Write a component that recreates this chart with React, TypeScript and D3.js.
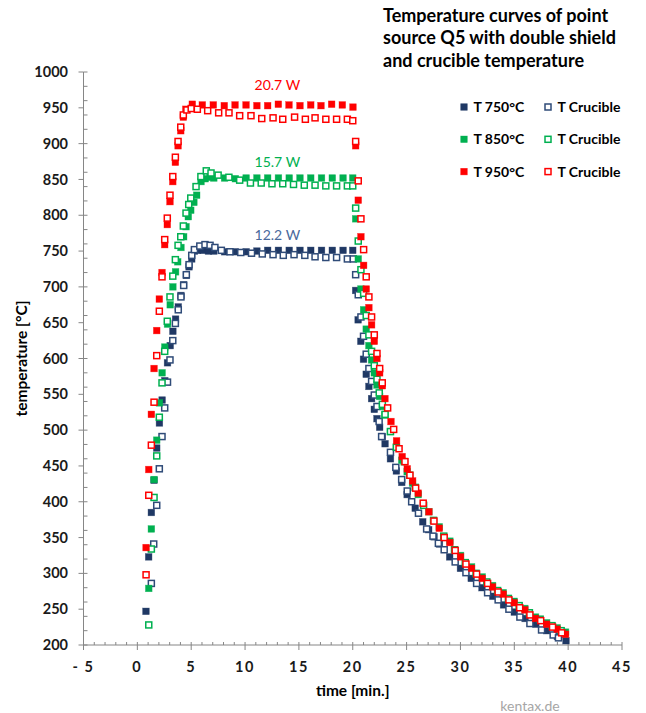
import { useMemo } from "react";
import * as d3 from "d3";

const T750: [number, number][] = [
  [0.8, 247], [1.05, 323], [1.3, 385], [1.55, 430], [1.8, 475], [2.05, 510], [2.3, 542], [2.55, 569],
  [2.8, 594], [3.05, 618], [3.3, 638], [3.55, 655], [3.8, 672], [4.05, 688], [4.3, 703], [4.55, 716],
  [4.8, 728], [5.05, 739], [5.3, 750], [5.6, 751], [6.1, 751], [6.6, 750], [7.1, 750], [8.1, 749],
  [9.1, 749], [10.1, 749], [11.1, 750], [12.1, 751], [13.1, 751], [14.1, 751], [15.1, 751], [16.1, 751],
  [17.1, 751], [18.1, 751], [19.1, 751], [20.0, 751], [20.27, 695], [20.5, 654], [20.75, 624], [21.0, 599],
  [21.25, 578], [21.5, 561], [21.75, 544], [22.0, 529], [22.25, 516], [22.5, 504], [22.75, 491], [23.0, 481],
  [23.5, 460], [24.05, 443], [24.55, 427], [25.05, 410], [25.8, 391], [26.5, 372], [27.05, 361], [27.55, 351],
  [28.05, 341], [29.0, 323], [30.0, 307], [31.0, 293], [32.0, 280], [33.0, 268], [34.0, 256], [35.0, 246],
  [36.0, 237], [37.0, 229], [38.0, 220], [39.0, 212], [39.8, 206],
];

const CRUCIBLE_750: [number, number][] = [
  [1.3, 286], [1.52, 341], [1.8, 395], [2.04, 446], [2.29, 491], [2.54, 531], [2.8, 567], [3.03, 598],
  [3.29, 625], [3.53, 649], [3.8, 668], [4.05, 686], [4.3, 702], [4.55, 717], [4.8, 731], [5.05, 744],
  [5.3, 752], [5.8, 757], [6.28, 759], [6.75, 758], [7.2, 755], [7.8, 751], [8.6, 749], [9.6, 748],
  [10.6, 747], [11.6, 746], [12.6, 745], [13.55, 744], [14.55, 745], [15.55, 744], [16.5, 742], [17.5, 741],
  [18.5, 741], [19.5, 739], [20.05, 739], [20.27, 717], [20.51, 689], [20.76, 658], [21.0, 631], [21.25, 606],
  [21.5, 586], [21.75, 568], [22.0, 549], [22.25, 533], [22.45, 512], [22.68, 491], [23.5, 469], [24.0, 448],
  [24.54, 431], [25.06, 415], [25.47, 400], [26.1, 384], [26.86, 362], [27.45, 352], [27.95, 342], [28.49, 333],
  [29.51, 316], [30.51, 301], [31.5, 286], [32.52, 273], [33.5, 263], [34.5, 250], [35.52, 239], [36.45, 230],
  [37.53, 221], [38.61, 214], [39.1, 210],
];

const T850: [number, number][] = [
  [1.06, 279], [1.3, 362], [1.55, 431], [1.8, 486], [2.05, 538], [2.3, 580], [2.55, 616], [2.8, 648],
  [3.05, 675], [3.3, 700], [3.55, 721], [3.75, 735], [4.05, 755], [4.3, 770], [4.52, 784], [4.73, 798],
  [4.96, 807], [5.25, 818], [5.51, 828], [5.91, 847], [6.3, 851], [6.75, 853], [7.1, 852], [8.1, 852],
  [9.1, 851], [10.1, 852], [11.1, 852], [12.1, 852], [13.1, 852], [14.1, 852], [15.1, 852], [16.1, 852],
  [17.1, 852], [18.1, 852], [19.1, 852], [20.0, 852], [20.27, 795], [20.51, 739], [20.76, 697], [21.01, 668],
  [21.25, 641], [21.5, 618], [21.75, 598], [22.0, 580], [22.25, 563], [22.5, 547], [22.75, 533], [22.99, 521],
  [23.5, 498], [24.05, 476], [24.55, 458], [25.05, 442], [25.55, 426], [26.08, 410], [27.07, 386], [28.03, 365],
  [29.02, 345], [30.01, 325], [31.03, 309], [32.02, 295], [32.98, 283], [33.97, 273], [34.99, 261], [35.98, 251],
  [36.97, 239], [38.0, 231], [38.98, 224], [39.76, 218],
];

const CRUCIBLE_850: [number, number][] = [
  [1.06, 228], [1.3, 334], [1.55, 406], [1.8, 464], [2.04, 518], [2.29, 566], [2.54, 610], [2.78, 652],
  [3.03, 686], [3.29, 715], [3.53, 738], [3.78, 758], [4.03, 770], [4.27, 785], [4.52, 803], [4.77, 815],
  [4.96, 824], [5.45, 840], [5.9, 854], [6.4, 862], [6.84, 859], [7.5, 856], [8.5, 853], [9.5, 849],
  [10.5, 845], [11.5, 845], [12.5, 844], [13.5, 844], [14.5, 843], [15.5, 842], [16.5, 842], [17.5, 841],
  [18.5, 841], [19.5, 841], [20.0, 841], [20.27, 810], [20.51, 764], [20.76, 724], [21.01, 691], [21.25, 660],
  [21.5, 633], [21.75, 610], [22.0, 590], [22.25, 571], [22.46, 552], [22.75, 536], [23.0, 522], [23.5, 498],
  [24.05, 476], [24.78, 456], [25.28, 437], [25.8, 420], [26.58, 395], [27.5, 374], [28.45, 352], [29.45, 333],
  [30.45, 315], [31.45, 300], [32.45, 288], [33.45, 276], [34.45, 265], [35.45, 255], [36.4, 245], [37.4, 236],
  [38.5, 227], [39.35, 220],
];

const T950: [number, number][] = [
  [0.81, 336], [1.06, 445], [1.3, 522], [1.55, 586], [1.8, 639], [2.04, 683], [2.29, 720], [2.54, 759],
  [2.78, 787], [3.03, 819], [3.29, 847], [3.53, 874], [3.78, 897], [4.03, 918], [4.27, 937], [4.5, 948],
  [5.1, 955], [6.03, 954], [7.05, 954], [8.07, 953], [9.07, 954], [10.09, 954], [11.1, 953], [12.1, 953],
  [13.09, 955], [14.08, 954], [15.1, 953], [16.1, 954], [17.05, 953], [18.04, 955], [19.03, 954], [20.02, 951],
  [20.27, 897], [20.51, 821], [20.76, 770], [21.01, 730], [21.25, 697], [21.5, 671], [21.75, 647], [22.0, 624],
  [22.25, 600], [22.5, 580], [22.75, 562], [22.99, 544], [23.55, 512], [24.07, 485], [24.59, 463], [25.06, 446],
  [25.56, 429], [26.08, 412], [27.07, 386], [28.03, 363], [29.02, 343], [30.01, 323], [31.03, 307], [32.02, 293],
  [32.98, 281], [33.97, 271], [34.99, 259], [35.98, 249], [36.97, 237], [38.0, 229], [38.98, 222], [39.76, 215],
];

const CRUCIBLE_950: [number, number][] = [
  [0.81, 298], [1.06, 409], [1.3, 479], [1.55, 539], [1.8, 604], [2.04, 666], [2.29, 714], [2.54, 766],
  [2.78, 796], [3.03, 828], [3.29, 854], [3.53, 881], [3.78, 903], [4.03, 923], [4.27, 940], [4.6, 947],
  [5.0, 949], [5.57, 948], [6.53, 946], [7.55, 943], [8.51, 943], [9.5, 939], [10.55, 939], [11.55, 935],
  [12.6, 936], [13.5, 934], [14.6, 937], [15.6, 934], [16.5, 936], [17.5, 934], [18.5, 934], [19.5, 934],
  [20.0, 932], [20.27, 903], [20.51, 848], [20.76, 795], [21.01, 752], [21.25, 714], [21.5, 686], [21.75, 658],
  [22.0, 633], [22.25, 607], [22.5, 586], [22.74, 566], [23.24, 531], [23.8, 501], [24.3, 474], [24.85, 456],
  [25.31, 437], [25.84, 419], [26.54, 398], [27.54, 373], [28.49, 350], [29.51, 332], [30.51, 313], [31.5, 299],
  [32.52, 286], [33.5, 274], [34.5, 263], [35.5, 252], [36.45, 242], [37.45, 234], [38.55, 225], [39.4, 217],
];

// Heater power annotations: [label, time, temperature]
const POWER_LABELS: [string, number, number][] = [
  ["20.7 W", 13, 975],
  ["15.7 W", 13, 868],
  ["12.2 W", 13, 766],
];

const TITLE_LINES = ["Temperature curves of point", "source Q5 with double shield", "and crucible temperature"];
const LEGEND_LABELS = ["T 750°C", "T Crucible", "T 850°C", "T Crucible", "T 950°C", "T Crucible"];

const NAVY = "#1f3864";
const NAVY_OPEN = "#2f4b78";
const GREEN = "#00b050";
const RED = "#ff0000";

const SERIES = [
  { data: T750, color: NAVY, open: false },
  { data: CRUCIBLE_750, color: NAVY_OPEN, open: true },
  { data: T850, color: GREEN, open: false },
  { data: CRUCIBLE_850, color: GREEN, open: true },
  { data: T950, color: RED, open: false },
  { data: CRUCIBLE_950, color: RED, open: true },
];
const LABEL_COLORS = [RED, GREEN, "#4a6a9c"];

const W = 646;
const H = 713;
const FONT = "Lato, 'Liberation Sans', sans-serif";

function Marker({ x, y, color, open }: { x: number; y: number; color: string; open: boolean }) {
  if (open) {
    return <rect x={x - 3} y={y - 3} width={6} height={6} fill="#fff" stroke={color} strokeWidth={1.5} />;
  }
  return <rect x={x - 3.3} y={y - 3.3} width={6.6} height={6.6} fill={color} stroke={color} strokeWidth={0.6} strokeOpacity={0.6} />;
}

export default function App() {
  const x = useMemo(() => d3.scaleLinear().domain([-5, 45]).range([83.5, 622]), []);
  const y = useMemo(() => d3.scaleLinear().domain([200, 1000]).range([645, 72]), []);

  const xMajor = d3.range(-5, 46, 5);
  const xMinor = d3.range(-5, 46, 1);
  const yMajor = d3.range(200, 1001, 50);
  const yMinor = d3.range(200, 1001, 20);
  const axisColor = "#868686";

  return (
    <svg width={W} height={H} style={{ position: "absolute", left: 0, top: 0, background: "#fff" }} fontFamily={FONT}>
      {/* title */}
      {TITLE_LINES.map((t, i) => (
        <text key={t} x={383} y={21.5 + i * 22.5} fontSize={18} fontWeight="bold" fill="#000">{t}</text>
      ))}

      {/* y axis */}
      <line x1={x(-5)} x2={x(-5)} y1={y(1000)} y2={y(200)} stroke={axisColor} />
      {yMinor.map((v) => (
        <line key={"ym" + v} x1={x(-5)} x2={x(-5) + 4} y1={y(v)} y2={y(v)} stroke={axisColor} />
      ))}
      {yMajor.map((v) => (
        <g key={"yM" + v}>
          <line x1={x(-5) - 5} x2={x(-5)} y1={y(v)} y2={y(v)} stroke={axisColor} />
          <text x={68} y={y(v)} dy="0.35em" textAnchor="end" fontSize={14.5} fontWeight="bold" fill="#1a1a1a">{v}</text>
        </g>
      ))}

      {/* x axis */}
      <line x1={x(-5)} x2={x(45)} y1={y(200)} y2={y(200)} stroke={axisColor} />
      {xMinor.map((v) => (
        <line key={"xm" + v} x1={x(v)} x2={x(v)} y1={y(200) - 3} y2={y(200)} stroke={axisColor} />
      ))}
      {xMajor.map((v) => (
        <g key={"xM" + v}>
          <line x1={x(v)} x2={x(v)} y1={y(200)} y2={y(200) + 5} stroke={axisColor} />
          <text x={x(v)} y={672} textAnchor="middle" fontSize={14.5} fontWeight="bold" letterSpacing={1.6} fill="#1a1a1a">
            {v < 0 ? "- " + Math.abs(v) : String(v)}
          </text>
        </g>
      ))}

      {/* axis titles */}
      <text x={x(20)} y={696} textAnchor="middle" fontSize={15.5} fontWeight="bold" fill="#000">time [min.]</text>
      <text transform={`translate(27,${(y(200) + y(1000)) / 2}) rotate(-90)`} textAnchor="middle" fontSize={15.5} fontWeight="bold" fill="#000">
        temperature [°C]
      </text>
      <text x={530} y={711} textAnchor="middle" fontSize={14} fill="#a6a6a6">kentax.de</text>

      {/* power labels */}
      {POWER_LABELS.map(([label, t, v], i) => (
        <text key={label} x={x(t)} y={y(v)} textAnchor="middle" fontSize={14} fill={LABEL_COLORS[i]}>{label}</text>
      ))}

      {/* data markers */}
      {SERIES.map((s, si) => (
        <g key={si}>
          {s.data.map(([t, v], i) => (
            <Marker key={i} x={x(t)} y={y(v)} color={s.color} open={s.open} />
          ))}
        </g>
      ))}

      {/* legend */}
      {LEGEND_LABELS.map((label, i) => {
        const col = i % 2;
        const row = Math.floor(i / 2);
        const s = SERIES[i];
        const lx = col === 0 ? 464 : 548;
        const ly = 107 + row * 32.3;
        return (
          <g key={i}>
            <Marker x={lx} y={ly} color={s.color} open={s.open} />
            <text x={lx + 9.5} y={ly} dy="0.35em" fontSize={14} fontWeight="bold" fill="#000">{label}</text>
          </g>
        );
      })}
    </svg>
  );
}
